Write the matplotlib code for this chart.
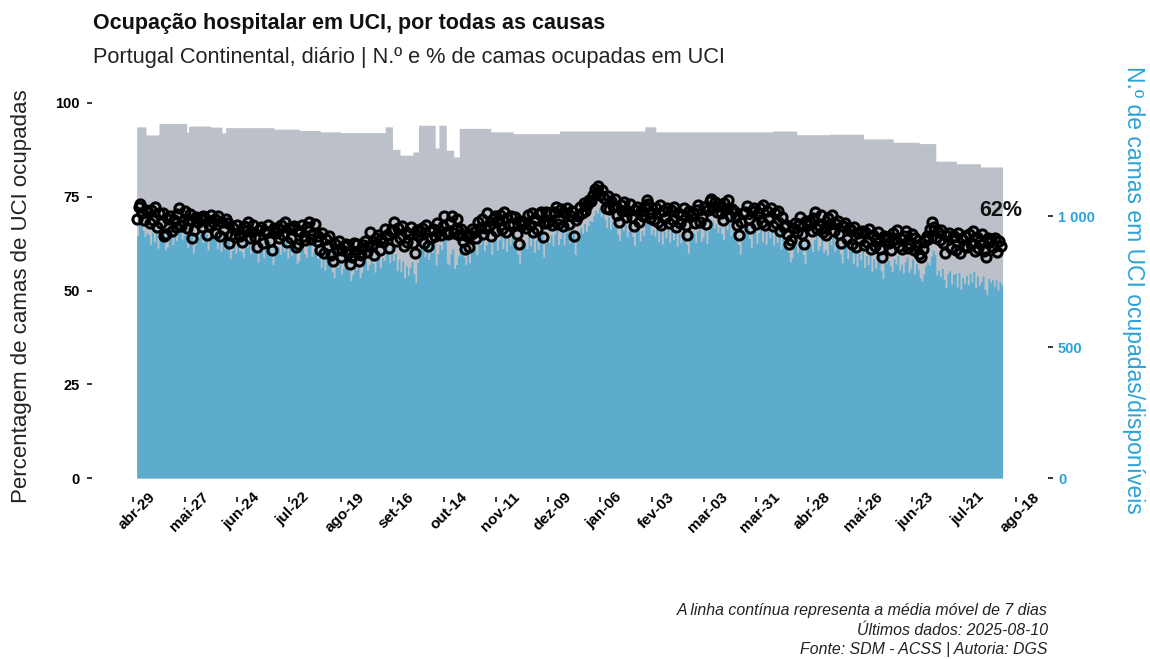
import numpy as np
import pandas as pd
import matplotlib

matplotlib.use("Agg")
import matplotlib.pyplot as plt
from matplotlib.ticker import FuncFormatter
from matplotlib.transforms import ScaledTranslation

plt.rcParams["font.family"] = ["Liberation Sans", "DejaVu Sans"]

# daily series, first day 2024-05-01, last day 2025-08-10 (one row = one week)
first_day = "2024-05-01"
pct_occupied = [
    69.0, 72.4, 73.2, 70.6, 68.8, 71.5, 70.9,
    68.1, 71.6, 68.9, 72.3, 67.0, 70.7, 67.9,
    70.6, 64.4, 65.1, 69.1, 69.9, 65.8, 68.8,
    67.0, 70.4, 71.9, 67.3, 68.5, 71.2, 66.7,
    68.7, 70.5, 63.9, 66.1, 69.6, 68.4, 69.3,
    66.9, 69.8, 69.4, 64.8, 67.6, 70.2, 68.3,
    69.1, 65.3, 69.9, 64.5, 68.3, 66.4, 69.0,
    67.9, 62.6, 64.9, 66.6, 64.2, 67.4, 65.0,
    64.6, 62.9, 67.3, 65.8, 68.2, 64.0, 65.7,
    67.6, 64.2, 61.6, 66.1, 66.9, 62.8, 65.8,
    65.7, 67.5, 63.1, 60.9, 66.6, 65.4, 66.3,
    64.1, 67.6, 64.9, 68.3, 63.0, 66.7, 63.9,
    66.8, 67.2, 61.5, 62.3, 65.9, 67.4, 64.6,
    63.5, 66.9, 68.4, 63.8, 65.0, 67.7, 63.2,
    64.6, 60.8, 65.4, 60.0, 63.8, 61.9, 64.5,
    59.6, 57.9, 62.3, 60.8, 63.2, 59.0, 60.7,
    61.9, 62.4, 60.1, 57.2, 59.0, 62.6, 60.3,
    62.3, 58.0, 59.6, 62.1, 63.1, 60.2, 61.8,
    65.6, 62.2, 59.6, 64.1, 64.9, 60.8, 63.8,
    63.0, 66.4, 64.9, 61.4, 65.8, 66.2, 68.3,
    63.1, 66.6, 63.9, 67.3, 62.0, 65.7, 62.9,
    65.2, 67.0, 62.6, 59.9, 66.1, 64.9, 65.8,
    66.6, 62.8, 67.4, 62.0, 65.8, 63.9, 66.5,
    64.5, 67.9, 66.2, 64.8, 67.1, 69.8, 65.6,
    65.0, 68.4, 69.9, 65.3, 66.5, 69.2, 64.7,
    66.4, 63.2, 61.1, 64.5, 61.6, 64.9, 66.3,
    65.6, 63.9, 68.3, 66.8, 69.2, 65.0, 66.7,
    70.6, 67.2, 64.6, 69.1, 69.9, 65.8, 68.8,
    70.1, 66.3, 70.9, 65.5, 69.3, 67.4, 70.0,
    67.7, 69.5, 65.1, 62.4, 68.6, 67.4, 68.3,
    66.6, 70.1, 67.4, 70.8, 65.5, 69.2, 66.4,
    70.3, 71.0, 64.2, 68.1, 70.9, 68.4, 70.6,
    67.5, 70.9, 72.4, 67.8, 69.0, 71.7, 67.2,
    70.6, 71.9, 67.7, 69.8, 71.2, 64.4, 68.9,
    69.8, 72.3, 70.6, 73.4, 71.1, 72.8, 74.2,
    73.9, 75.6, 77.2, 76.3, 77.8, 75.4, 76.9,
    74.6, 72.1, 75.3, 71.8, 73.9, 72.5, 74.4,
    70.1, 68.4, 72.8, 71.3, 73.7, 69.5, 71.2,
    73.1, 69.7, 67.1, 71.6, 72.4, 68.3, 71.3,
    70.0, 72.6, 74.1, 73.2, 69.4, 70.8, 68.9,
    72.1, 68.3, 72.9, 67.5, 71.3, 69.4, 72.0,
    68.1, 71.6, 68.9, 72.3, 67.0, 70.7, 67.9,
    70.2, 72.0, 67.6, 64.9, 71.1, 69.9, 70.8,
    68.0, 71.4, 72.9, 68.3, 69.5, 72.2, 67.7,
    71.4, 73.9, 74.3, 72.2, 73.6, 70.9, 72.5,
    70.6, 68.9, 73.3, 71.8, 74.2, 70.0, 71.7,
    71.2, 69.7, 67.5, 64.7, 68.4, 70.6, 71.0,
    72.6, 69.2, 66.6, 71.1, 71.9, 67.8, 70.8,
    72.1, 68.3, 72.9, 67.5, 71.3, 69.4, 72.0,
    67.1, 70.6, 67.9, 71.3, 66.0, 69.7, 66.9,
    67.4, 65.1, 62.3, 63.5, 66.8, 67.9, 65.7,
    67.7, 69.5, 65.1, 62.4, 68.6, 67.4, 68.3,
    66.0, 69.4, 70.9, 66.3, 67.5, 70.2, 65.7,
    66.6, 64.9, 69.3, 67.8, 70.2, 66.0, 67.7,
    68.6, 65.2, 62.6, 67.1, 67.9, 63.8, 66.8,
    66.1, 62.3, 66.9, 61.5, 65.3, 63.4, 66.0,
    62.1, 65.6, 62.9, 66.3, 61.0, 64.7, 61.9,
    63.7, 65.5, 61.1, 58.9, 64.6, 63.4, 64.3,
    62.6, 60.9, 65.3, 63.8, 66.2, 62.0, 63.7,
    61.0, 64.4, 65.9, 61.3, 62.5, 65.2, 60.7,
    63.9, 62.2, 59.8, 58.9, 61.0, 63.5, 64.6,
    63.7, 66.4, 68.3, 66.9, 64.1, 65.6, 63.5,
    66.1, 62.7, 60.1, 64.6, 65.4, 61.3, 64.3,
    64.6, 60.8, 65.4, 60.0, 63.8, 61.9, 64.5,
    61.6, 65.1, 62.4, 65.8, 60.5, 64.2, 61.4,
    63.2, 65.0, 60.6, 58.9, 64.1, 62.9, 63.8,
    61.6, 63.9, 60.4, 63.1, 62.0,
]

# available ICU beds, as (number of days, beds) runs
beds_run_days = [5, 7, 15, 1, 12, 6, 2, 26, 14, 11, 11, 24, 4, 4, 7, 3, 9, 2,
                 4, 4, 3, 17, 12, 25, 46, 6, 63, 13, 18, 18, 16, 14, 9, 11, 13, 12]
beds_run_values = [1341, 1310, 1354, 1320, 1344, 1340, 1318, 1338, 1332, 1327,
                   1322, 1319, 1341, 1255, 1233, 1245, 1347, 1260, 1347, 1252,
                   1226, 1335, 1322, 1315, 1325, 1341, 1322, 1325, 1311, 1313,
                   1295, 1282, 1277, 1210, 1200, 1188]

tick_start = "2024-04-29"
tick_labels = ["abr-29", "mai-27", "jun-24", "jul-22", "ago-19", "set-16",
               "out-14", "nov-11", "dez-09", "jan-06", "fev-03", "mar-03",
               "mar-31", "abr-28", "mai-26", "jun-23", "jul-21", "ago-18"]

GRAY = "#BCC1C9"
BLUE = "#5DABCD"
AXIS_BLUE = "#2AA3D9"
W, H = 1150, 659


def fx(px):
    return px / W


def fy(py):
    return 1 - py / H


pct = np.array(pct_occupied)
beds_total = np.repeat(beds_run_values, beds_run_days)
assert len(pct) == len(beds_total)
beds_used = beds_total * pct / 100.0
dates = pd.date_range(first_day, periods=len(pct), freq="D")
edges = pd.date_range(first_day, periods=len(pct) + 1, freq="D")
ma7 = pd.Series(pct).rolling(7).mean().to_numpy()

fig = plt.figure(figsize=(W / 100, H / 100), dpi=100)
ax = fig.add_axes([fx(131.1), fy(478), (1017.4 - 131.1) / W, 375 / H])
ax2 = ax.twinx()

ax2.fill_between(edges, np.append(beds_total, beds_total[-1]), step="post",
                 color=GRAY, linewidth=0)
ax2.fill_between(edges, np.append(beds_used, beds_used[-1]), step="post",
                 color=BLUE, linewidth=0)

ax.plot(dates, ma7, color="black", linewidth=1.5, zorder=2)
ax.plot(dates, pct, linestyle="none", marker="o", markersize=6.6,
        markerfacecolor="none", markeredgecolor="black", markeredgewidth=2.2,
        zorder=3)
ax.annotate(f"{pct[-1]:.0f}%", xy=(dates[-1], pct[-1]), xytext=(0, 25),
            textcoords="offset points", ha="center", va="center",
            fontsize=15.5, fontweight="bold", color="#111111")

ax.set_zorder(ax2.get_zorder() + 1)
ax.patch.set_visible(False)

ax.set_xlim(pd.Timestamp("2024-04-28"), pd.Timestamp("2025-08-19"))
ax.set_ylim(0, 100)
ax2.set_ylim(0, 1432)

for a in (ax, ax2):
    for s in a.spines.values():
        s.set_visible(False)
ax.spines["left"].set_position(("outward", 28.2))
ax.spines["bottom"].set_position(("outward", 13.7))
ax2.spines["right"].set_position(("outward", 22))

ax.set_yticks([0, 25, 50, 75, 100])
ax.tick_params(axis="y", length=3.6, width=1.1, pad=5, labelsize=10.5,
               colors="black")
ax2.set_yticks([0, 500, 1000])
ax2.yaxis.set_major_formatter(FuncFormatter(lambda v, _: f"{v:,.0f}".replace(",", " ")))
ax2.tick_params(axis="y", length=3.6, width=1.1, pad=3.6, labelsize=10.5,
                color="black", labelcolor=AXIS_BLUE)

tick_dates = pd.date_range(tick_start, periods=len(tick_labels), freq="28D")
ax.set_xticks(tick_dates)
ax.set_xticklabels(tick_labels)
ax.tick_params(axis="x", length=3.6, width=1.1, pad=0, labelsize=11)
shift = ScaledTranslation(4 / 100, 12 / 100, fig.dpi_scale_trans)
for lab in ax.get_xticklabels():
    lab.set_rotation(45)
    lab.set_ha("center")
    lab.set_va("top")
    lab.set_fontweight("bold")
    lab.set_transform(lab.get_transform() + shift)
for lab in ax.get_yticklabels() + ax2.get_yticklabels():
    lab.set_fontweight("bold")

fig.text(fx(93), fy(29), "Ocupação hospitalar em UCI, por todas as causas",
         fontsize=15.5, fontweight="bold", va="baseline", color="#111111")
fig.text(fx(93), fy(63), "Portugal Continental, diário | N.º e % de camas ocupadas em UCI",
         fontsize=15.7, va="baseline", color="#222222")
fig.text(fx(21.7), fy(296), "Percentagem de camas de UCI ocupadas", rotation=90,
         ha="center", va="center", fontsize=16, color="#222222")
fig.text(fx(1133), fy(290), "N.º de camas em UCI ocupadas/disponíveis", rotation=270,
         ha="center", va="center", fontsize=16.5, color=AXIS_BLUE)

footer = ["A linha contínua representa a média móvel de 7 dias",
          "Últimos dados: 2025-08-10",
          "Fonte: SDM - ACSS | Autoria: DGS"]
for i, line in enumerate(footer):
    fig.text(fx(1048), fy(615 + 19.7 * i), line, ha="right", va="baseline",
             fontsize=11.4, style="italic", color="#222222")

fig.savefig("out.png", dpi=100)
